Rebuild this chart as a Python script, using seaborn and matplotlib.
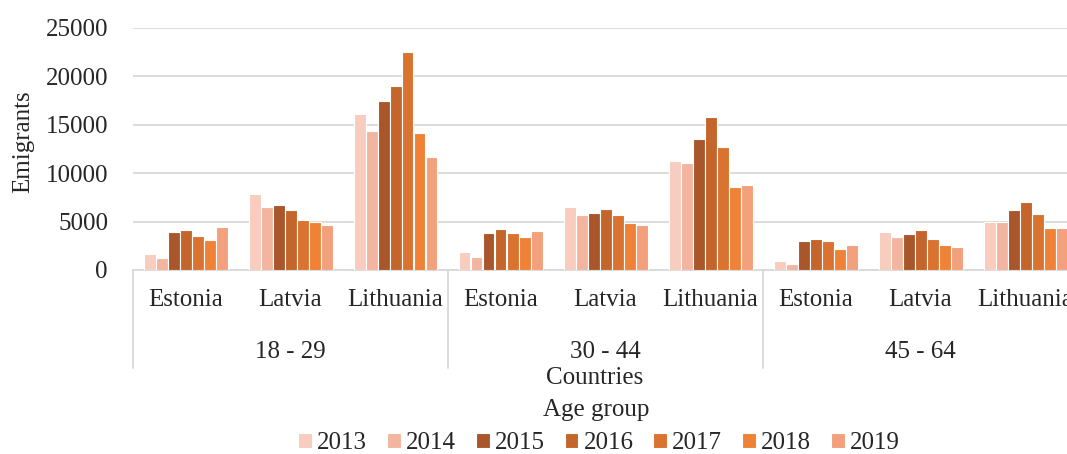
import numpy as np
import pandas as pd
import matplotlib
matplotlib.use("Agg")
import matplotlib.pyplot as plt
import matplotlib.transforms as mtransforms
import seaborn as sns

# ---- data ----
age_groups = ["18 - 29", "30 - 44", "45 - 64"]
countries = ["Estonia", "Latvia", "Lithuania"]
years = ["2013", "2014", "2015", "2016", "2017", "2018", "2019"]

# values ordered: (18-29: Estonia, Latvia, Lithuania), (30-44: ...), (45-64: ...)
v2013 = [1700, 7900, 16100, 1900, 6500, 11300, 900, 3900, 5000]
v2014 = [1250, 6500, 14400, 1300, 5700, 11100, 650, 3450, 5000]
v2015 = [3950, 6700, 17500, 3800, 5850, 13550, 3000, 3700, 6250]
v2016 = [4150, 6250, 19000, 4200, 6300, 15850, 3250, 4100, 7050]
v2017 = [3550, 5200, 22500, 3800, 5650, 12700, 3000, 3250, 5800]
v2018 = [3150, 5000, 14200, 3400, 4850, 8550, 2150, 2600, 4300]
v2019 = [4400, 4600, 11700, 4000, 4600, 8750, 2600, 2400, 4300]

yticks = [0, 5000, 10000, 15000, 20000, 25000]

colors = ["#F8CCBE", "#F4B5A0", "#A9572A", "#C4662C", "#DB7330", "#EF8236", "#F3A07C"]

# ---- build table ----
series = [v2013, v2014, v2015, v2016, v2017, v2018, v2019]
rows = []
cats = []
for gi, g in enumerate(age_groups):
    for ci, c in enumerate(countries):
        cats.append(f"{g}|{c}")
for yr, vals in zip(years, series):
    for cat, v in zip(cats, vals):
        rows.append({"cat": cat, "year": yr, "value": v})
df = pd.DataFrame(rows)

sns.set_style("white")
plt.rcParams["font.family"] = ["Liberation Serif", "DejaVu Serif"]
plt.rcParams["font.size"] = 18

W, H = 1067, 454
fig = plt.figure(figsize=(W / 100, H / 100), dpi=100)
ax_left, ax_right = 133, 1078
ax_top, ax_bot = 28, 270
ax = fig.add_axes([ax_left / W, 1 - ax_bot / H, (ax_right - ax_left) / W, (ax_bot - ax_top) / H])

sns.barplot(data=df, x="cat", y="value", hue="year", order=cats, hue_order=years,
            palette=colors, saturation=1, width=0.8, edgecolor="white", linewidth=0.8,
            ax=ax, errorbar=None, zorder=3)

handles, labels = ax.get_legend_handles_labels()
if ax.legend_ is not None:
    ax.legend_.remove()

ax.set_ylim(0, 25000)
ax.set_xlim(-0.5, 8.5)
ax.set_yticks(yticks)
ax.set_yticklabels([str(t) for t in yticks], fontsize=18)
ax.yaxis.grid(True, color="#D9D9D9", linewidth=1.3, zorder=0)
ax.set_axisbelow(True)
for s in ["top", "right", "left"]:
    ax.spines[s].set_visible(False)
ax.spines["bottom"].set_color("#D9D9D9")
ax.spines["bottom"].set_linewidth(1.3)
ax.tick_params(axis="y", length=0, pad=18)
ax.set_xticks(range(len(cats)))
ax.set_xticklabels(countries * len(age_groups), fontsize=18)
ax.tick_params(axis="x", length=0, pad=14)
ax.set_xlabel("")
ax.set_ylabel("")

trans = mtransforms.blended_transform_factory(ax.transData, ax.transAxes)
axh = ax_bot - ax_top
for x in [-0.5, 2.5, 5.5, 8.5]:
    ax.plot([x, x], [0, -(368 - 270) / axh], transform=trans, clip_on=False,
            color="#D9D9D9", linewidth=1.3)
for gi, g in enumerate(age_groups):
    ax.text(gi * 3 + 1, -(352 - 270) / axh, g, transform=trans, ha="center",
            va="center", fontsize=18)

fig.text(595 / W, 1 - 378 / H, "Countries", ha="center", va="center", fontsize=18)
fig.text(596 / W, 1 - 410 / H, "Age group", ha="center", va="center", fontsize=18)
fig.text(23 / W, 1 - 142 / H, "Emigrants", ha="center", va="center", rotation=90, fontsize=18)

fig.legend(handles, labels, loc="center", bbox_to_anchor=(599 / W, 1 - 443 / H),
           ncol=7, frameon=False, handlelength=0.55, handleheight=0.55,
           handletextpad=0.2, columnspacing=0.8, fontsize=18, borderaxespad=0,
           borderpad=0)

fig.savefig("out.png", dpi=100)
